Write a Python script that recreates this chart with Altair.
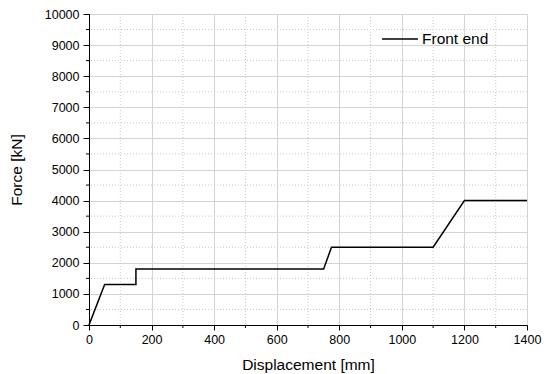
import altair as alt
import pandas as pd

disp = [0, 50, 150, 150, 750, 775, 1100, 1200, 1400]
force = [0, 1300, 1300, 1800, 1800, 2500, 2500, 4000, 4000]
series = "Front end"

x_major = [0, 200, 400, 600, 800, 1000, 1200, 1400]
x_minor = [100, 300, 500, 700, 900, 1100, 1300]
y_major = [0, 1000, 2000, 3000, 4000, 5000, 6000, 7000, 8000, 9000, 10000]
y_minor = [500, 1500, 2500, 3500, 4500, 5500, 6500, 7500, 8500, 9500]

df = pd.DataFrame({"d": disp, "f": force, "s": series})
dfx = pd.DataFrame({"v": x_minor})
dfy = pd.DataFrame({"v": y_minor})

xs = alt.Scale(domain=[0, 1400], nice=False, zero=False)
ys = alt.Scale(domain=[0, 10000], nice=False, zero=False)

FONT = "Liberation Sans"
xaxis = alt.Axis(values=x_major, format="d", grid=True, gridColor="#d4d4d4", gridWidth=1,
                 domainColor="black", tickColor="black", tickSize=5, labelFlush=False,
                 labelFontSize=12.5, labelColor="black", labelPadding=3,
                 titleFontSize=15.5, titleFontWeight="normal", titleColor="black",
                 titlePadding=12, labelFont=FONT, titleFont=FONT)
yaxis = alt.Axis(values=y_major, format="d", grid=True, gridColor="#d4d4d4", gridWidth=1,
                 domainColor="black", tickColor="black", tickSize=6, labelFlush=False,
                 labelFontSize=12.5, labelColor="black", labelPadding=4,
                 titleFontSize=15.5, titleFontWeight="normal", titleColor="black",
                 titlePadding=20, labelFont=FONT, titleFont=FONT)

XT = "Displacement [mm]"
YT = "Force [kN]"

minor_gx = alt.Chart(dfx).mark_rule(color="#c8c8c8", strokeDash=[1, 2], strokeWidth=1).encode(
    x=alt.X("v:Q", scale=xs, axis=xaxis, title=XT))
minor_gy = alt.Chart(dfy).mark_rule(color="#c8c8c8", strokeDash=[1, 2], strokeWidth=1).encode(
    y=alt.Y("v:Q", scale=ys, axis=yaxis, title=YT))
minor_tx = alt.Chart(dfx).mark_rule(color="black", strokeWidth=1).encode(
    x=alt.X("v:Q", scale=xs, axis=xaxis, title=XT), y=alt.value(311), y2=alt.value(314))
minor_ty = alt.Chart(dfy).mark_rule(color="black", strokeWidth=1).encode(
    y=alt.Y("v:Q", scale=ys, axis=yaxis, title=YT), x=alt.value(-3), x2=alt.value(0))

line = alt.Chart(df).mark_line(strokeWidth=1.5).encode(
    x=alt.X("d:Q", scale=xs, title=XT, axis=xaxis),
    y=alt.Y("f:Q", scale=ys, title=YT, axis=yaxis),
    color=alt.Color("s:N", scale=alt.Scale(range=["black"]), title=None,
                    legend=alt.Legend(orient="none", legendX=292, legendY=6,
                                      symbolType="stroke", symbolSize=1296,
                                      symbolStrokeWidth=1.5, labelFontSize=15.5,
                                      labelFont=FONT, labelColor="black",
                                      labelOffset=3)),
    order=alt.Order("idx:Q"),
).transform_window(idx="row_number()")

chart = alt.layer(minor_gx, minor_gy, line, minor_tx, minor_ty).properties(
    width=438, height=311,
    autosize=alt.AutoSizeParams(type="none"),
    padding={"left": 81, "top": 6, "right": 17, "bottom": 49},
).configure_view(stroke=None).configure(background="white")

chart.save("out.html", embed_options={"renderer": "svg", "actions": False})
